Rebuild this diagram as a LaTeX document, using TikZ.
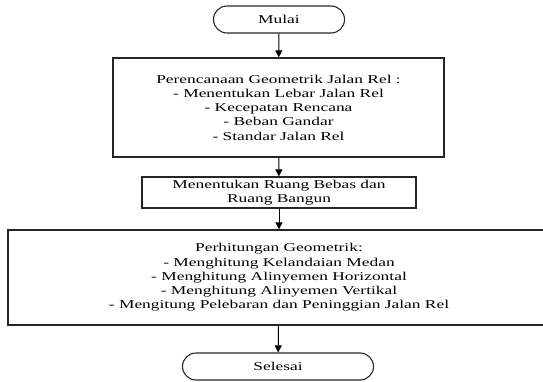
\documentclass[tikz,border=0pt]{standalone}
\usepackage{fontspec}
\setmainfont{Liberation Serif}[FakeStretch=1.45]
\usetikzlibrary{arrows.meta}
\begin{document}
\begin{tikzpicture}[x=1pt,y=1pt,
  every node/.style={font=\fontsize{12}{14.3}\selectfont, align=center, inner sep=0pt},
  termbox/.style={draw=black!85, line width=1.1pt, rounded corners=13.5pt, minimum height=27pt},
  procbox/.style={draw=black!85, line width=1.3pt, minimum height=#1},
  flow/.style={line width=1pt, -{Triangle[width=7pt,length=7pt]}}]
\useasboundingbox (0,0) rectangle (543,-382);
\node[termbox, minimum width=131pt] (mulai) at (279,-19.5) {Mulai};
\node[procbox=99pt, minimum width=331pt] (b1) at (278.5,-107.5)
  {Perencanaan Geometrik Jalan Rel :\\- Menentukan Lebar Jalan Rel\\- Kecepatan Rencana\\- Beban Gandar\\- Standar Jalan Rel};
\node[procbox=31pt, minimum width=274pt] (b2) at (279,-192.5)
  {Menentukan Ruang Bebas dan\\Ruang Bangun};
\node[procbox=95pt, minimum width=542pt] (b3) at (279,-277.5)
  {Perhitungan Geometrik:\\- Menghitung Kelandaian Medan\\- Menghitung Alinyemen Horizontal\\- Menghitung Alinyemen Vertikal\\- Mengitung Pelebaran dan Peninggian Jalan Rel};
\node[termbox, minimum width=191pt] (selesai) at (278,-366.5) {Selesai};
\draw[flow] (mulai) -- (b1);
\draw[flow] (b1) -- (b2);
\draw[flow] (b2) -- (b3);
\draw[flow] (b3) -- (selesai);
\end{tikzpicture}
\end{document}
